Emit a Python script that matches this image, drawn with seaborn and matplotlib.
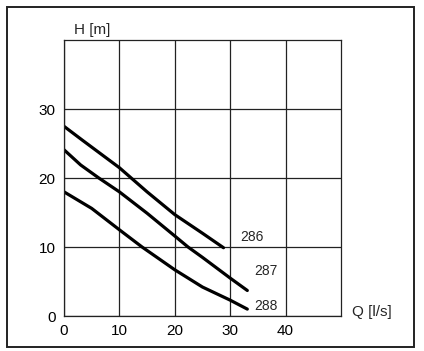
import seaborn as sns
import matplotlib.pyplot as plt
import pandas as pd
from matplotlib.patches import Rectangle

# pump curves
q_286 = [0, 3.3, 10, 15, 20, 25, 28.8]
h_286 = [27.5, 25.5, 21.5, 18.0, 14.7, 12.0, 9.9]

q_287 = [0, 3, 6.3, 10, 15, 20, 22.4, 25, 30, 33.1]
h_287 = [24.1, 21.9, 20.0, 18.0, 14.9, 11.6, 10.0, 8.5, 5.5, 3.7]

q_288 = [0, 5, 10, 14.1, 20, 25, 30, 33.1]
h_288 = [18.0, 15.6, 12.5, 10.0, 6.7, 4.2, 2.3, 1.0]

x_ticks = [0, 10, 20, 30, 40]
y_ticks = [0, 10, 20, 30]

frames = []
for name, q, h in [("286", q_286, h_286), ("287", q_287, h_287), ("288", q_288, h_288)]:
    frames.append(pd.DataFrame({"Q": q, "H": h, "pump": name}))
df = pd.concat(frames, ignore_index=True)

sns.set_style("white")
plt.rcParams['font.family'] = ['Liberation Sans', 'DejaVu Sans']

fig = plt.figure(figsize=(4.24, 3.51), dpi=100)
ax = fig.add_axes([0.151, 0.0997, 0.653, 0.786])

sns.lineplot(data=df, x="Q", y="H", units="pump", estimator=None,
             color="black", linewidth=2.3, ax=ax, legend=False,
             solid_joinstyle="round")

ax.set_xlim(0, 50)
ax.set_ylim(0, 40)
ax.set_xticks(x_ticks)
ax.set_yticks(y_ticks)
ax.tick_params(length=0, labelsize=11, colors="black", pad=6)
ax.grid(True, color="#222222", linewidth=0.9)
ax.set_axisbelow(True)
for s in ax.spines.values():
    s.set_color("#222222")
    s.set_linewidth(0.9)
ax.set_xlabel("")
ax.set_ylabel("")

# axis titles
ax.text(0.036, 1.035, "H [m]", transform=ax.transAxes, fontsize=11, va="center", ha="left")
ax.text(1.04, 0.013, "Q [l/s]", transform=ax.transAxes, fontsize=11, va="center", ha="left")

# curve labels
ax.text(31.8, 11.4, "286", fontsize=10, va="center", ha="left")
ax.text(34.4, 6.5, "287", fontsize=10, va="center", ha="left")
ax.text(34.3, 1.5, "288", fontsize=10, va="center", ha="left")

# outer frame
fig.patches.append(Rectangle((7 / 424, 4 / 351), 407 / 424, 340 / 351,
                             transform=fig.transFigure, fill=False,
                             edgecolor="#222222", linewidth=1.4))

fig.savefig("out.png", dpi=100)
